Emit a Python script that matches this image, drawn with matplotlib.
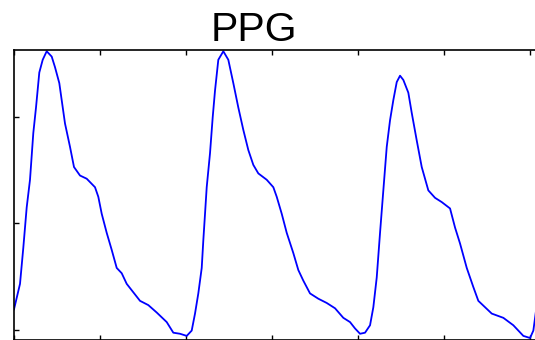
import matplotlib
matplotlib.use("Agg")
import matplotlib.pyplot as plt

title = "PPG"
x_ticks = [0, 50, 100, 150, 200, 250, 300]
y_ticks = [0, 1, 2]

sample = [0.0, 3.49, 5.41, 7.38, 9.30, 11.22, 12.79, 14.71, 16.69, 19.01, 21.92, 23.84,
          26.34, 27.73, 29.65, 32.56, 34.88, 38.37, 42.27, 47.09, 49.01, 50.99, 53.90,
          56.80, 59.71, 62.62, 65.52, 73.26, 78.08, 82.97, 88.78, 92.62, 96.51, 100.41,
          103.31, 105.23, 107.15, 109.13, 110.06, 111.05, 112.03, 113.95, 115.52, 116.86,
          118.78, 121.69, 124.59, 127.50, 130.41, 133.31, 136.22, 139.13, 142.03, 146.92,
          150.76, 152.73, 155.64, 158.55, 162.38, 165.29, 168.20, 172.09, 176.92, 181.80,
          186.63, 191.45, 195.35, 198.26, 201.16, 204.07, 206.98, 208.90, 210.87, 212.79,
          214.71, 216.69, 218.60, 220.52, 222.50, 224.42, 226.34, 229.24, 231.22, 234.13,
          237.03, 240.87, 244.77, 248.66, 253.49, 256.40, 259.30, 263.20, 267.03, 269.94,
          277.73, 284.48, 290.29, 296.10, 300.0, 301.92, 303.5]
ppg = [0.19, 0.43, 0.77, 1.15, 1.41, 1.85, 2.09, 2.42, 2.54, 2.62, 2.57, 2.47,
       2.32, 2.16, 1.94, 1.72, 1.53, 1.45, 1.42, 1.34, 1.25, 1.09, 0.91,
       0.75, 0.58, 0.53, 0.43, 0.27, 0.23, 0.16, 0.07, -0.03, -0.04, -0.06,
       -0.01, 0.15, 0.34, 0.58, 0.84, 1.09, 1.34, 1.66, 2.00, 2.25,
       2.54, 2.62, 2.54, 2.32, 2.09, 1.88, 1.69, 1.55, 1.47, 1.41,
       1.34, 1.25, 1.09, 0.91, 0.72, 0.56, 0.46, 0.34, 0.29, 0.25,
       0.20, 0.11, 0.07, 0.01, -0.04, -0.03, 0.04, 0.21, 0.49, 0.91,
       1.31, 1.72, 1.97, 2.16, 2.33, 2.39, 2.35, 2.23, 2.04, 1.78,
       1.53, 1.31, 1.24, 1.20, 1.14, 0.96, 0.81, 0.58, 0.40, 0.27,
       0.15, 0.11, 0.04, -0.06, -0.08, -0.01, 0.18]

W, H = 535, 340
fig = plt.figure(figsize=(W / 100, H / 100), dpi=100)
fig.patch.set_facecolor("white")
ax_l, ax_r, ax_t, ax_b = 14, 550, 50, 339.5
ax = fig.add_axes([ax_l / W, (H - ax_b) / H, (ax_r - ax_l) / W, (ax_b - ax_t) / H])
ax.plot(sample, ppg, color=(0, 0, 1), linewidth=1.3)
ax.set_xlim(0, 311.6)
ax.set_ylim(-0.094, 2.632)
ax.set_xticks(x_ticks)
ax.set_yticks(y_ticks)
ax.tick_params(direction="in", length=3.5, width=1.0, top=True, right=True,
               labelbottom=False, labelleft=False)
for s in ax.spines.values():
    s.set_linewidth(1.2)
    s.set_color("black")

fig.text(253.5 / W, (H - 41) / H, title, ha="center", va="baseline",
         fontsize=29.5, family="Liberation Sans", color="black")

fig.savefig("out.png", dpi=100)
